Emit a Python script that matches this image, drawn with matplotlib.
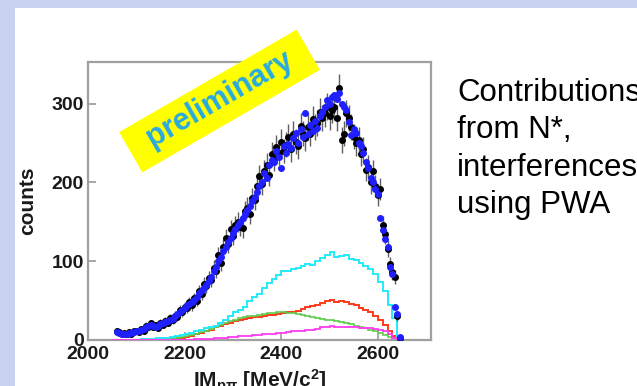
import numpy as np
import matplotlib
matplotlib.use("Agg")
import matplotlib.pyplot as plt
from matplotlib.patches import Rectangle

plt.rcParams['font.family'] = ['Liberation Sans', 'DejaVu Sans']
plt.rcParams['mathtext.fontset'] = 'custom'
plt.rcParams['mathtext.rm'] = 'Liberation Sans'
plt.rcParams['mathtext.bf'] = 'Liberation Sans:bold'
plt.rcParams['mathtext.it'] = 'Liberation Sans:italic'
plt.rcParams['mathtext.default'] = 'bf'

# invariant mass bins (5 MeV) for data and PWA fit points
mass_lo, mass_hi, mass_step = 2060, 2645, 5

data_counts = [
    11, 10, 8, 9, 7, 10, 8, 11, 12, 10,
    14, 12, 18, 16, 21, 17, 19, 15, 22, 19,
    24, 22, 28, 25, 31, 29, 38, 35, 42, 40,
    48, 44, 53, 50, 62, 58, 71, 68, 79, 76,
    92, 88, 108, 98, 118, 130, 122, 141, 132, 146,
    150, 144, 142, 164, 168, 160, 180, 178, 196, 208,
    198, 214, 222, 210, 236, 230, 245, 238, 252, 240,
    248, 258, 242, 262, 252, 246, 272, 262, 256, 270,
    262, 280, 270, 276, 290, 282, 288, 296, 284, 292,
    296, 282, 320, 254, 262, 288, 282, 270, 258, 250,
    254, 236, 242, 216, 220, 200, 214, 196, 184, 192,
    146, 134, 116, 96, 86, 80, 30, 3,
]

pwa_counts = [
    10, 9, 8, 8, 8, 9, 9, 10, 11, 12,
    13, 14, 16, 18, 19, 18, 17, 18, 20, 21,
    23, 24, 25, 27, 30, 33, 36, 38, 41, 44,
    46, 48, 51, 55, 60, 63, 66, 70, 75, 80,
    87, 93, 100, 106, 113, 118, 124, 130, 136, 141,
    146, 150, 155, 160, 165, 170, 176, 182, 188, 195,
    200, 212, 206, 222, 229, 226, 240, 232, 218, 246,
    238, 249, 244, 256, 263, 250, 268, 258, 288, 262,
    273, 266, 278, 269, 284, 290, 296, 305, 300, 309,
    311, 306, 314, 300, 296, 292, 277, 260, 268, 263,
    250, 246, 238, 226, 218, 206, 200, 192, 186, 155,
    140, 128, 118, 93, 84, 42, 33, 4,
]

# contributions, 10 MeV histogram bins 2050..2650
hist_lo, hist_hi, hist_step = 2050, 2650, 10

cyan_counts = [
    0, 0, 0, 0, 0.5, 0.5, 1, 1, 1.5, 2,
    2.5, 3, 4, 5, 6, 8, 9, 11, 13, 15,
    16, 18, 22, 26, 31, 35, 38, 42, 49, 54,
    58, 66, 72, 78, 83, 87, 88, 90, 92, 94,
    96, 95, 100, 104, 108, 112, 106, 107, 108, 103,
    102, 98, 94, 90, 84, 74, 62, 44, 28, 4,
]
red_counts = [
    0, 0, 0, 0, 0, 0, 0, 0, 0, 0,
    0.5, 1, 1.5, 2, 3, 4, 5, 7, 9, 11,
    13, 16, 18, 20, 22, 24, 25, 27, 28, 29,
    29, 31, 32, 32, 33, 34, 35, 35, 37, 39,
    42, 43, 45, 47, 49, 51, 48, 49, 48, 46,
    44, 41, 38, 35, 31, 25, 19, 12, 5, 0,
]
green_counts = [
    0, 0, 0, 0, 0, 0, 0, 0, 0, 0,
    0.5, 1, 1.5, 2.5, 3.5, 5, 6, 8, 10, 12,
    14, 17, 19, 21, 24, 26, 28, 29, 30, 31,
    32, 33, 34, 34, 35, 35, 34, 34, 33, 32,
    31, 29, 28, 27, 26, 25, 24, 23, 21, 20,
    18, 16, 15, 13, 11, 9, 6, 4, 2, 0,
]
magenta_counts = [
    0, 0, 0, 0, 0, 0, 0, 0, 0, 0,
    0, 0, 0, 0, 0.5, 0.5, 0.5, 1, 1, 1.5,
    1.5, 2, 2.5, 3, 3.5, 4, 4.5, 5, 5.5, 6,
    6.5, 7, 7.5, 8, 9, 9.5, 10, 11, 11, 12,
    13, 13, 14, 16, 17, 18, 17, 17, 16, 16,
    16, 15, 15, 15, 14, 13, 11, 7, 3, 0,
]

x_ticks = [2000, 2200, 2400, 2600]
y_ticks = [0, 100, 200, 300]

W, H = 637, 386
fig = plt.figure(figsize=(W / 100, H / 100), dpi=100, facecolor='#c9d2ef')

# white slide panel behind the plot
fig.patches.append(Rectangle((15 / W, 0), 1 - 15 / W, 1 - 8 / H,
                             transform=fig.transFigure, facecolor='white',
                             edgecolor='none', zorder=-1))

ax = fig.add_axes([88 / W, 1 - 340 / H, 343 / W, 278 / H])
ax.set_facecolor('white')

mass = np.arange(mass_lo, mass_hi + 1, mass_step)
data = np.array(data_counts, dtype=float)
pwa = np.array(pwa_counts, dtype=float)
edges = np.arange(hist_lo, hist_hi + 1, hist_step)

ax.axhline(0, color='#ff3a1a', lw=1.4, zorder=1)
ax.stairs(red_counts, edges, color='#ff3a1a', lw=1.4, zorder=2)
ax.stairs(green_counts, edges, color='#5ccc4a', lw=1.2, zorder=2)
ax.stairs(cyan_counts, edges, color='#22eaf8', lw=1.4, zorder=2)
ax.stairs(magenta_counts, edges, color='#ff3cf0', lw=1.3, zorder=3)

ax.errorbar(mass, data, yerr=np.sqrt(data), fmt='o', color='black',
            ecolor='#606060', elinewidth=1.0, capsize=0, ms=4, zorder=4)
ax.plot(mass, pwa, 'o', color='#1f1fff', ms=4, zorder=5)

ax.set_xlim(2000, 2710)
ax.set_ylim(0, 353)
ax.set_xticks(x_ticks)
ax.set_yticks(y_ticks)
ax.set_xticklabels([str(t) for t in x_ticks], fontweight='bold', fontsize=14)
ax.set_yticklabels([str(t) for t in y_ticks], fontweight='bold', fontsize=14)
ax.tick_params(direction='in', length=6, width=1.2, color='#999999',
               labelcolor='#1a1a1a', pad=3)
ax.tick_params(axis='x', pad=4)
for s in ax.spines.values():
    s.set_color('#a0a0a0')
    s.set_linewidth(1.6)

ax.set_ylabel('counts', fontweight='bold', fontsize=15, color='#1a1a1a',
              va='center')
ax.yaxis.set_label_coords(-0.175, 0.5)
ax.set_xlabel(r'IM$_{p\pi}$ [MeV/c$^{2}$]', fontweight='bold', fontsize=15,
              color='#1a1a1a', va='baseline')
ax.xaxis.set_label_coords(0.5, -48 / 278)

# "preliminary" stamp on top of the frame
cx, cy = 219.5 / 100, (H - 101) / 100
bw, bh = 2.05, 0.465
fig.patches.append(Rectangle((cx - bw / 2, cy - bh / 2), bw, bh, angle=30,
                             rotation_point='center',
                             transform=fig.dpi_scale_trans,
                             facecolor='#ffff00', edgecolor='none', zorder=6))
fig.text(cx * 100 / W, cy * 100 / H + 0.005, 'preliminary', rotation=30,
         rotation_mode='anchor', ha='center', va='center',
         fontsize=22, fontweight='bold', color='#27a9e1', zorder=7)

fig.text(457 / W, 1 - 78 / H, 'Contributions\nfrom N*,\ninterferences\nusing PWA',
         ha='left', va='top', fontsize=22.5, color='black', linespacing=1.32)

fig.savefig('out.png', dpi=100, facecolor=fig.get_facecolor())
